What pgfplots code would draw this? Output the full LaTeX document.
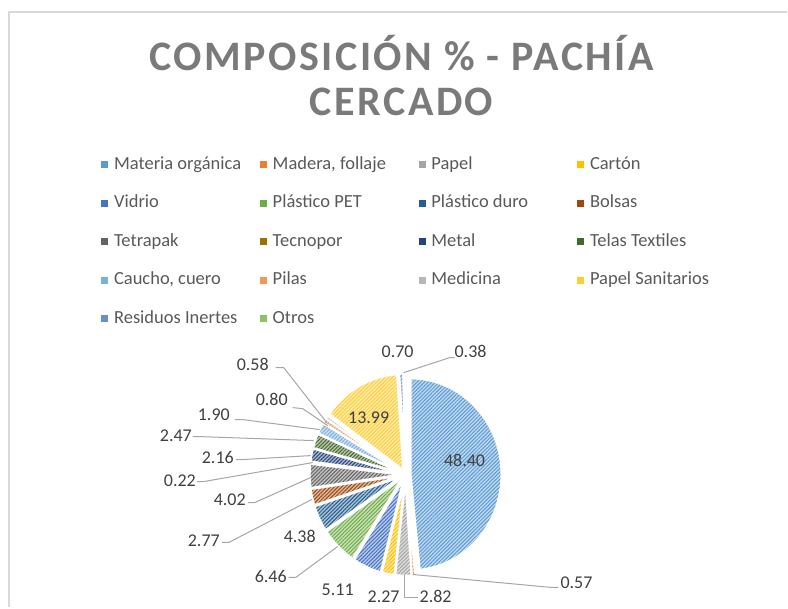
\documentclass[border=0pt]{standalone}
\usepackage{fontspec}
\setmainfont{Carlito}
\newfontfamily\titlefont[LetterSpace=6]{Carlito}
\usepackage{pgfplots}
\usepackage{pgfplotstable}
\pgfplotsset{compat=1.18}
\usetikzlibrary{patterns.meta}

\definecolor{c1}{HTML}{5B9BD5}
\definecolor{c2}{HTML}{ED7D31}
\definecolor{c3}{HTML}{A5A5A5}
\definecolor{c4}{HTML}{FFC000}
\definecolor{c5}{HTML}{4472C4}
\definecolor{c6}{HTML}{70AD47}
\definecolor{c7}{HTML}{255E91}
\definecolor{c8}{HTML}{9E480E}
\definecolor{c9}{HTML}{636363}
\definecolor{c10}{HTML}{997300}
\definecolor{c11}{HTML}{264478}
\definecolor{c12}{HTML}{43682B}
\definecolor{c13}{HTML}{7CAFDD}
\definecolor{c14}{HTML}{F1975A}
\definecolor{c15}{HTML}{B7B7B7}
\definecolor{c16}{HTML}{FFCD33}
\definecolor{c17}{HTML}{698ED0}
\definecolor{c18}{HTML}{8CC168}
\definecolor{txt}{HTML}{595959}
\definecolor{ttl}{HTML}{7A7A7A}
\definecolor{lbl}{HTML}{404040}
\definecolor{lead}{HTML}{A6A6A6}
\definecolor{frm}{HTML}{D9D9D9}

% composicion % (orden de Excel, sentido horario desde arriba)
\pgfplotstableread[col sep=semicolon]{
name;value;col
Materia orgánica;48.40;c1
Madera, follaje;0.57;c2
Papel;2.82;c3
Cartón;2.27;c4
Vidrio;5.11;c5
Plástico PET;6.46;c6
Plástico duro;4.38;c7
Bolsas;2.77;c8
Tetrapak;4.02;c9
Tecnopor;0.22;c10
Metal;2.16;c11
Telas Textiles;2.47;c12
Caucho, cuero;1.90;c13
Pilas;0.80;c14
Medicina;0.58;c15
Papel Sanitarios;13.99;c16
Residuos Inertes;0.70;c17
Otros;0.38;c18
}\piedata

% pie geometry in px (axis units)
\def\cx{406}\def\cy{475}
\def\rx{45.5pt}\def\ry{48pt}
\def\ex{5}\def\ey{5.2}
\newcommand\lgd[1]{\makebox[73pt][l]{#1}}

\begin{document}
\begin{tikzpicture}[
  lab/.style={font=\fontsize{9}{10}\selectfont, text=lbl, inner sep=0pt},
  ld/.style={lead, line width=0.5pt}]
\begin{axis}[
  x=0.5pt, y=0.5pt, xmin=0, xmax=788, ymin=0, ymax=608, y dir=reverse,
  hide axis, clip=false,
  legend image code/.code={\fill[#1] (0pt,-1.5pt) rectangle (3pt,1.5pt);},
  legend columns=4,
  legend style={at={(axis cs:101,156)}, anchor=north west, draw=none, fill=none,
    inner sep=0pt, font=\fontsize{9.25}{11}\selectfont, text=txt,
    cells={anchor=west},
    nodes={inner sep=0pt, text height=6.5pt, text depth=2pt},
    row sep=10.75pt,
    /tikz/every odd column/.append style={column sep=3pt}},
]
\path (axis cs:0,0) rectangle (axis cs:788,608);
\draw[frm, line width=0.75pt] (axis cs:9,608) -- (axis cs:9,12) -- (axis cs:788,12);

% slices
\pgfplotstablegetrowsof{\piedata}
\pgfmathtruncatemacro\nrows{\pgfplotsretval-1}
\gdef\cum{0}
\foreach \i in {0,...,\nrows}{
  \pgfplotstablegetelem{\i}{value}\of\piedata \let\sval\pgfplotsretval
  \pgfplotstablegetelem{\i}{col}\of\piedata \let\scol\pgfplotsretval
  \pgfmathsetmacro\aA{90-3.6*\cum}
  \pgfmathsetmacro\aB{90-3.6*(\cum+\sval)}
  \pgfmathsetmacro\amid{(\aA+\aB)/2}
  \pgfmathsetmacro\ox{\cx+\ex*cos(\amid)}
  \pgfmathsetmacro\oy{\cy-\ey*sin(\amid)}
  \pgfmathsetmacro\newcum{\cum+\sval}
  \xdef\cum{\newcum}
  \edef\temp{\noexpand\fill[fill=\scol!38,
    postaction={pattern={Lines[angle=45,distance=1.3pt,line width=0.5pt]}, pattern color=\scol}]
    (axis cs:\ox,\oy) -- ++(\aA:\rx\space and \ry)
    arc[start angle=\aA, end angle=\aB, x radius=\rx, y radius=\ry] -- cycle;
    \noexpand\draw[white, line width=1pt]
    (axis cs:\ox,\oy) -- ++(\aA:\rx\space and \ry)
    arc[start angle=\aA, end angle=\aB, x radius=\rx, y radius=\ry] -- cycle;}
  \temp
}

% legend
\addlegendimage{c1}\addlegendentry{\lgd{Materia orgánica}}
\addlegendimage{c2}\addlegendentry{\lgd{Madera, follaje}}
\addlegendimage{c3}\addlegendentry{\lgd{Papel}}
\addlegendimage{c4}\addlegendentry{\lgd{Cartón}}
\addlegendimage{c5}\addlegendentry{\lgd{Vidrio}}
\addlegendimage{c6}\addlegendentry{\lgd{Plástico PET}}
\addlegendimage{c7}\addlegendentry{\lgd{Plástico duro}}
\addlegendimage{c8}\addlegendentry{\lgd{Bolsas}}
\addlegendimage{c9}\addlegendentry{\lgd{Tetrapak}}
\addlegendimage{c10}\addlegendentry{\lgd{Tecnopor}}
\addlegendimage{c11}\addlegendentry{\lgd{Metal}}
\addlegendimage{c12}\addlegendentry{\lgd{Telas Textiles}}
\addlegendimage{c13}\addlegendentry{\lgd{Caucho, cuero}}
\addlegendimage{c14}\addlegendentry{\lgd{Pilas}}
\addlegendimage{c15}\addlegendentry{\lgd{Medicina}}
\addlegendimage{c16}\addlegendentry{\lgd{Papel Sanitarios}}
\addlegendimage{c17}\addlegendentry{\lgd{Residuos Inertes}}
\addlegendimage{c18}\addlegendentry{\lgd{Otros}}

% title
\node[anchor=base, font=\titlefont\bfseries\fontsize{21}{24}\selectfont, text=ttl] at (axis cs:402,71) {COMPOSICIÓN \% - PACHÍA};
\node[anchor=base, font=\titlefont\bfseries\fontsize{21}{24}\selectfont, text=ttl] at (axis cs:402,116) {CERCADO};

% data labels
\node[lab] at (axis cs:465,461) {48.40};
\node[lab] at (axis cs:369,418) {13.99};
\node[lab] at (axis cs:398,352) {0.70};
\node[lab] at (axis cs:471,352) {0.38};
\node[lab] at (axis cs:253,365) {0.58};
\node[lab] at (axis cs:272,400) {0.80};
\node[lab] at (axis cs:214,415) {1.90};
\node[lab] at (axis cs:176,436) {2.47};
\node[lab] at (axis cs:218,458) {2.16};
\node[lab] at (axis cs:180,481) {0.22};
\node[lab] at (axis cs:230,500) {4.02};
\node[lab] at (axis cs:204,541) {2.77};
\node[lab] at (axis cs:300,537) {4.38};
\node[lab] at (axis cs:271,577) {6.46};
\node[lab] at (axis cs:338,590) {5.11};
\node[lab] at (axis cs:384,597) {2.27};
\node[lab] at (axis cs:436,597) {2.82};
\node[lab] at (axis cs:577,583) {0.57};

% leader lines
\draw[ld] (axis cs:404,373) -- (axis cs:450,358) -- (axis cs:455,358);
\draw[ld] (axis cs:276,368) -- (axis cs:284,368) -- (axis cs:327,423);
\draw[ld] (axis cs:293,408) -- (axis cs:303,409) -- (axis cs:328,426);
\draw[ld] (axis cs:235,420) -- (axis cs:243,420) -- (axis cs:320,430);
\draw[ld] (axis cs:193,437) -- (axis cs:200,437) -- (axis cs:314,441);
\draw[ld] (axis cs:236,460) -- (axis cs:243,460) -- (axis cs:311,456);
\draw[ld] (axis cs:197,482) -- (axis cs:204,482) -- (axis cs:313,463);
\draw[ld] (axis cs:248,503) -- (axis cs:255,503) -- (axis cs:311,478);
\draw[ld] (axis cs:222,543) -- (axis cs:229,543) -- (axis cs:312,500);
\draw[ld] (axis cs:289,578) -- (axis cs:296,578) -- (axis cs:338,547);
\draw[ld] (axis cs:405,576) -- (axis cs:405,598) -- (axis cs:418,598);
\draw[ld] (axis cs:413,575) -- (axis cs:552,588) -- (axis cs:559,588);
\end{axis}
\end{tikzpicture}
\end{document}
